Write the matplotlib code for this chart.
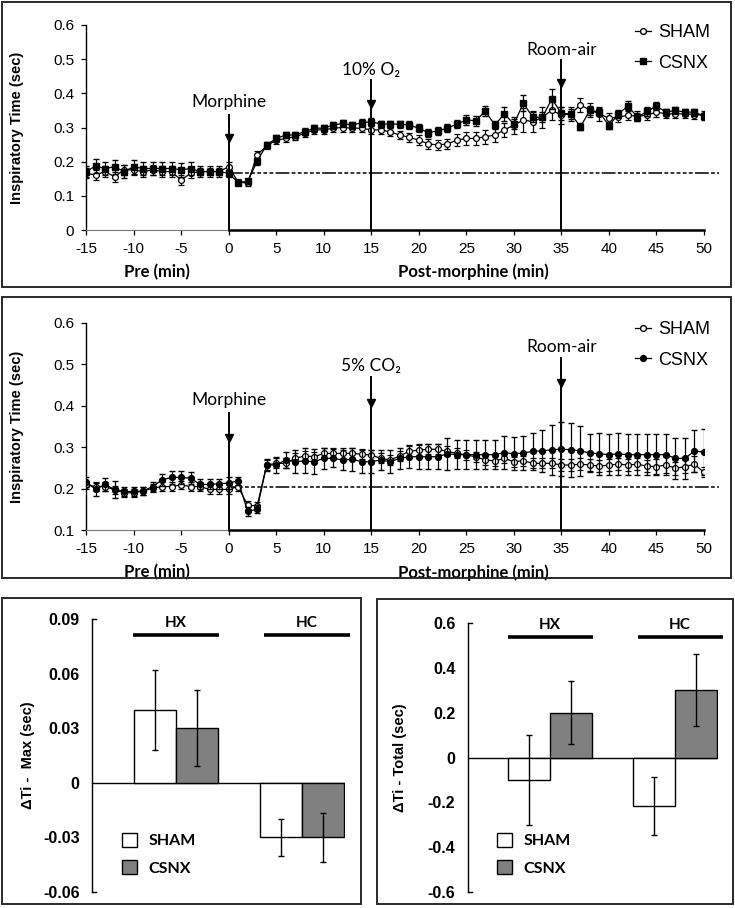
import numpy as np
import matplotlib.pyplot as plt
from matplotlib.lines import Line2D
from matplotlib.patches import Rectangle

plt.rcParams['font.family'] = ['Liberation Sans', 'DejaVu Sans']
plt.rcParams['axes.unicode_minus'] = False
CAL = ['Lato', 'DejaVu Sans']

# time axis: -15 .. 50 min, one point per minute
minutes = np.arange(-15, 51)

# top panel (hypoxia, 10% O2)
sham_hx = [0.166, 0.161, 0.171, 0.156, 0.176, 0.176, 0.171, 0.176, 0.171, 0.171, 0.146, 0.166, 0.171, 0.171, 0.171, 0.185,
           0.141, 0.137, 0.220, 0.246, 0.263, 0.268, 0.273, 0.283, 0.293, 0.293, 0.298, 0.300, 0.298, 0.298,
           0.293, 0.293, 0.287, 0.278, 0.271, 0.263, 0.252, 0.249, 0.252, 0.263, 0.268, 0.268, 0.273, 0.278, 0.293, 0.307,
           0.322, 0.317, 0.330, 0.351, 0.336, 0.340, 0.366, 0.351, 0.340, 0.327, 0.330, 0.336, 0.333, 0.336, 0.345, 0.340,
           0.340, 0.340, 0.338, 0.336]
sham_hx_err = [0.015] * 16 + [0.008, 0.008, 0.01, 0.01, 0.01, 0.01, 0.01, 0.012, 0.012, 0.012, 0.012, 0.012, 0.012, 0.012,
               0.012, 0.012, 0.012, 0.012, 0.012, 0.015, 0.015, 0.015, 0.015, 0.018, 0.018, 0.018, 0.02, 0.02, 0.02, 0.025,
               0.035, 0.03, 0.03, 0.03, 0.025, 0.02, 0.02, 0.02, 0.02, 0.015, 0.015, 0.015, 0.015, 0.015, 0.015, 0.012,
               0.012, 0.012, 0.012, 0.012]
csnx_hx = [0.171, 0.187, 0.180, 0.185, 0.171, 0.185, 0.180, 0.180, 0.180, 0.180, 0.176, 0.180, 0.171, 0.171, 0.171, 0.166,
           0.139, 0.142, 0.201, 0.249, 0.268, 0.278, 0.278, 0.288, 0.298, 0.298, 0.307, 0.312, 0.307, 0.314,
           0.317, 0.310, 0.310, 0.310, 0.307, 0.298, 0.285, 0.290, 0.298, 0.310, 0.322, 0.320, 0.348, 0.307, 0.340, 0.310,
           0.371, 0.330, 0.330, 0.384, 0.341, 0.340, 0.302, 0.350, 0.345, 0.305, 0.340, 0.363, 0.330, 0.347, 0.363, 0.345,
           0.350, 0.345, 0.345, 0.333]
csnx_hx_err = [0.015, 0.02, 0.02, 0.02, 0.02, 0.02, 0.02, 0.02, 0.02, 0.02, 0.02, 0.02, 0.01, 0.01, 0.01, 0.01,
               0.008, 0.008, 0.01, 0.01, 0.01, 0.01, 0.01, 0.01, 0.01, 0.01, 0.01, 0.01, 0.01, 0.012,
               0.012, 0.01, 0.01, 0.01, 0.012, 0.012, 0.012, 0.012, 0.012, 0.012, 0.015, 0.015, 0.015, 0.012, 0.02, 0.015,
               0.024, 0.015, 0.015, 0.03, 0.02, 0.015, 0.01, 0.012, 0.012, 0.01, 0.012, 0.015, 0.012, 0.012, 0.012, 0.01,
               0.01, 0.01, 0.01, 0.01]

# middle panel (hypercapnia, 5% CO2)
sham_hc = [0.209, 0.205, 0.205, 0.197, 0.190, 0.190, 0.194, 0.201, 0.205, 0.205, 0.209, 0.205, 0.205, 0.198, 0.198, 0.198,
           0.205, 0.160, 0.158, 0.257, 0.261, 0.261, 0.273, 0.279, 0.277, 0.285, 0.285, 0.285, 0.285, 0.283,
           0.281, 0.273, 0.269, 0.279, 0.290, 0.293, 0.295, 0.295, 0.290, 0.285, 0.281, 0.277, 0.269, 0.267, 0.273, 0.265,
           0.267, 0.261, 0.261, 0.261, 0.257, 0.257, 0.259, 0.257, 0.254, 0.257, 0.259, 0.257, 0.259, 0.254, 0.253, 0.257,
           0.249, 0.253, 0.259, 0.239]
sham_hc_err = [0.01] * 16 + [0.01, 0.01, 0.01] + [0.012] * 11 + [0.012] * 20 + [0.015] * 10 + [0.018, 0.02, 0.015, 0.015, 0.02, 0.012]
csnx_hc = [0.217, 0.198, 0.210, 0.198, 0.193, 0.193, 0.194, 0.205, 0.221, 0.227, 0.227, 0.225, 0.210, 0.210, 0.212, 0.213,
           0.219, 0.145, 0.150, 0.257, 0.257, 0.269, 0.265, 0.267, 0.265, 0.273, 0.273, 0.269, 0.271, 0.265,
           0.265, 0.269, 0.265, 0.273, 0.277, 0.277, 0.277, 0.277, 0.284, 0.282, 0.282, 0.282, 0.282, 0.282, 0.287, 0.284,
           0.286, 0.290, 0.291, 0.294, 0.295, 0.294, 0.291, 0.286, 0.284, 0.282, 0.284, 0.282, 0.282, 0.282, 0.282, 0.282,
           0.273, 0.273, 0.291, 0.288]
csnx_hc_err = [0.012, 0.015, 0.015, 0.02, 0.01, 0.01, 0.01, 0.012, 0.015, 0.015, 0.015, 0.015, 0.012, 0.012, 0.012, 0.015,
               0.01, 0.01, 0.01, 0.015, 0.02, 0.02, 0.028, 0.03, 0.03, 0.025, 0.022, 0.025, 0.028, 0.028,
               0.028, 0.025, 0.028, 0.025, 0.028, 0.03, 0.03, 0.03, 0.038, 0.035, 0.035, 0.035, 0.035, 0.035, 0.04, 0.04,
               0.04, 0.045, 0.05, 0.06, 0.065, 0.065, 0.06, 0.045, 0.05, 0.05, 0.05, 0.05, 0.05, 0.05, 0.05, 0.05,
               0.05, 0.05, 0.05, 0.055]

# bar panels
groups = ['HX', 'HC']
dmax_sham = [0.040, -0.030]
dmax_sham_err = [0.022, 0.010]
dmax_csnx = [0.030, -0.030]
dmax_csnx_err = [0.021, 0.0135]
dtot_sham = [-0.10, -0.215]
dtot_sham_err = [0.20, 0.13]
dtot_csnx = [0.20, 0.30]
dtot_csnx_err = [0.14, 0.16]

W, H = 735, 908
fig = plt.figure(figsize=(W / 100, H / 100), dpi=100)


def fx(p):
    return p / W


def fy(p):
    return 1 - p / H


def box(x0, y0, x1, y1):
    fig.add_artist(Rectangle((fx(x0), fy(y1)), fx(x1 - x0), (y1 - y0) / H, fill=False,
                             lw=1.4, ec='#2a2a2a', transform=fig.transFigure))


box(2, 2, 731, 287)
box(2, 297, 731, 578)
box(2, 598, 361, 904)
box(377, 599, 733, 904)


def time_panel(px_top, px_bot, ylim, sham, sham_err, csnx, csnx_err, base, events, cmark, leg_y):
    ax = fig.add_axes([fx(86), fy(px_bot), fx(704 - 86), (px_bot - px_top) / H])
    ax.errorbar(minutes, sham, yerr=sham_err, fmt='-o', color='black', lw=0.9, ms=4.2,
                mfc='white', mec='black', mew=0.9, capsize=2.3, elinewidth=0.9, zorder=3)
    ax.errorbar(minutes, csnx, yerr=csnx_err, fmt='-' + cmark, color='black', lw=0.9, ms=4.2,
                mfc='black', mec='black', capsize=2.3, elinewidth=0.9, zorder=4)
    ax.plot([0, 51.6], [base, base], color='black', lw=1.1, clip_on=False, zorder=2,
            dashes=(9, 1.5, 2.5, 1.5, 2.5, 1.5, 2.5, 1.5, 2.5, 1.5, 2.5, 1.5))
    for x, ytop, ytri, lab, ylab in events:
        ax.plot([x, x], [ylim[0], ytop], color='black', lw=1.4, zorder=5)
        ax.plot([x], [ytri], marker='v', color='black', ms=6, zorder=6)
        ax.text(x, ylab, lab, ha='center', va='center', fontsize=12.5, family=CAL)
    ax.set_xlim(-15, 50)
    ax.set_ylim(*ylim)
    ax.set_xticks(np.arange(-15, 51, 5))
    ax.set_yticks(np.arange(ylim[0], ylim[1] + 0.001, 0.1))
    ax.set_yticklabels([f'{v:g}' for v in np.arange(ylim[0], ylim[1] + 0.001, 0.1).round(1)])
    ax.tick_params(labelsize=11, length=3.5, width=0.9, direction='out', pad=5)
    for s in ['top', 'right']:
        ax.spines[s].set_visible(False)
    ax.spines['left'].set_linewidth(1.0)
    ax.spines['bottom'].set_color('#777777')
    ax.plot([0, 50], [ylim[0], ylim[0]], color='black', lw=1.8, clip_on=False, zorder=5)
    ax.set_ylabel('Inspiratory Time (sec)', fontsize=10.5, fontweight='bold')
    ax.yaxis.set_label_coords(-0.1, 0.5)
    ax.text(-7.5, -0.205, 'Pre (min)', transform=ax.get_xaxis_transform(), ha='center', va='center',
            fontsize=12, fontweight='bold', family=CAL)
    ax.text(25.7, -0.205, 'Post-morphine (min)', transform=ax.get_xaxis_transform(), ha='center', va='center',
            fontsize=12, fontweight='bold', family=CAL)
    handles = [Line2D([], [], color='black', lw=0.9, marker='o', ms=4.2, mfc='white', mec='black'),
               Line2D([], [], color='black', lw=0.9, marker=cmark, ms=4.2, mfc='black', mec='black')]
    ax.legend(handles, ['SHAM', 'CSNX'], loc='upper right', bbox_to_anchor=(fx(710), fy(leg_y)),
              bbox_transform=fig.transFigure, frameon=False, fontsize=13, handlelength=0.9,
              handletextpad=0.4, labelspacing=0.75, borderpad=0, borderaxespad=0)
    return ax


time_panel(25, 230, (0.0, 0.6), sham_hx, sham_hx_err, csnx_hx, csnx_hx_err, 0.168,
           [(0, 0.337, 0.27, 'Morphine', 0.375), (15, 0.439, 0.37, '10% O₂', 0.468),
            (35, 0.497, 0.43, 'Room-air', 0.527)], 's', 24)
time_panel(323, 530, (0.1, 0.6), sham_hc, sham_hc_err, csnx_hc, csnx_hc_err, 0.205,
           [(0, 0.382, 0.322, 'Morphine', 0.415), (15, 0.469, 0.406, '5% CO₂', 0.495),
            (35, 0.515, 0.455, 'Room-air', 0.542)], 'o', 321)


def bar_panel(px_left, px_right, px_top, px_bot, xlim, ylim, yticks, ylabels, sham, sham_err, csnx, csnx_err,
              ylabel, ylab_x, bar_y, txt_y, leg_xy):
    ax = fig.add_axes([fx(px_left), fy(px_bot), fx(px_right - px_left), (px_bot - px_top) / H])
    pos = np.arange(1, len(groups) + 1)
    w = 0.333
    b1 = ax.bar(pos - w / 2, sham, w, color='white', edgecolor='black', lw=1.0, zorder=2)
    b2 = ax.bar(pos + w / 2, csnx, w, color='#808080', edgecolor='black', lw=1.0, zorder=2)
    ax.errorbar(pos - w / 2, sham, yerr=sham_err, fmt='none', ecolor='black', elinewidth=1.0, capsize=2.5, zorder=3)
    ax.errorbar(pos + w / 2, csnx, yerr=csnx_err, fmt='none', ecolor='black', elinewidth=1.0, capsize=2.5, zorder=3)
    ax.axhline(0, color='black', lw=1.0, zorder=1)
    for i, (p, g) in enumerate(zip(pos, groups)):
        off = 0.04 * i
        ax.plot([p - 0.34 + off, p + 0.34 + off], [bar_y, bar_y], color='black', lw=2.6, clip_on=False,
                solid_capstyle='butt')
        ax.text(p + off, txt_y, g, ha='center', va='center', fontsize=11, fontweight='bold', family=CAL)
    ax.set_xlim(*xlim)
    ax.set_ylim(*ylim)
    ax.set_xticks([])
    ax.set_yticks(yticks)
    ax.set_yticklabels(ylabels)
    ax.tick_params(axis='y', length=0, labelsize=11.5, pad=9)
    for lab in ax.get_yticklabels():
        lab.set_fontweight('bold')
    for s in ['top', 'right', 'bottom']:
        ax.spines[s].set_visible(False)
    ax.spines['left'].set_linewidth(1.0)
    for yy in [ylim[0], ylim[1]]:
        ax.plot([xlim[0], xlim[0] + 0.035], [yy, yy], color='black', lw=1.0, clip_on=False)
    ax.set_ylabel(ylabel, fontsize=10.5, fontweight='bold')
    ax.yaxis.set_label_coords(ylab_x, 0.5)
    ax.legend([b1, b2], ['SHAM', 'CSNX'], loc='upper left', bbox_to_anchor=(fx(leg_xy[0]), fy(leg_xy[1])),
              bbox_transform=fig.transFigure, frameon=False, handlelength=0.95, handleheight=0.95,
              handletextpad=0.7, labelspacing=0.75, borderpad=0, borderaxespad=0,
              prop={'family': CAL, 'weight': 'bold', 'size': 11.5})
    return ax


bar_panel(92, 345, 619, 892, (0.333, 2.34), (-0.06, 0.09), [-0.06, -0.03, 0, 0.03, 0.06, 0.09],
          ['-0.06', '-0.03', '0', '0.03', '0.06', '0.09'], dmax_sham, dmax_sham_err, dmax_csnx, dmax_csnx_err,
          'ΔTi -  Max (sec)', -0.225, 0.0812, 0.0878, (122, 833))
bar_panel(468, 718, 623, 892, (0.344, 2.344), (-0.6, 0.6), [-0.6, -0.4, -0.2, 0, 0.2, 0.4, 0.6],
          ['-0.6', '-0.4', '-0.2', '0', '0.2', '0.4', '0.6'], dtot_sham, dtot_sham_err, dtot_csnx, dtot_csnx_err,
          'ΔTi - Total (sec)', -0.245, 0.5375, 0.59, (497, 833))

fig.savefig('out.png', dpi=100)
